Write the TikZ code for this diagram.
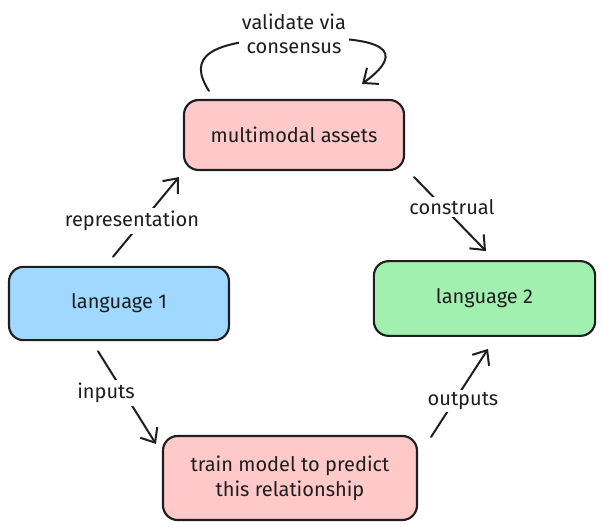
\documentclass[tikz,border=0pt]{standalone}
\usepackage{fontspec}
\setmainfont{Fira Sans}
\usetikzlibrary{arrows.meta,calc}
\definecolor{pinkfill}{HTML}{FFC9C9}
\definecolor{bluefill}{HTML}{A0D8FF}
\definecolor{greenfill}{HTML}{A2F0B0}
\definecolor{ink}{HTML}{1E1E1E}
\tikzset{
  box/.style={draw=ink, line width=1.6pt, rounded corners=11pt, align=center,
    inner sep=0pt, font=\fontsize{15}{18.5}\selectfont, text=ink},
  lbl/.style={fill=white, inner sep=2pt, align=center,
    font=\fontsize{15}{18}\selectfont, text=ink},
  arr/.style={draw=ink, line width=1.5pt, line cap=round, line join=round,
    -{Straight Barb[length=9pt,width=15pt,line width=1.5pt]}},
}
\begin{document}
\begin{tikzpicture}[x=0.75pt,y=-0.75pt]
\useasboundingbox (0,0) rectangle (602,530);

\node[box, fill=pinkfill, minimum width=165pt, minimum height=52.5pt] (mm) at (294,135) {multimodal assets};
\node[box, fill=bluefill, minimum width=165pt, minimum height=55pt] (l1) at (119,303.5) {language 1};
\node[box, fill=greenfill, minimum width=166pt, minimum height=56pt] (l2) at (484.5,298.5) {language 2};
\node[box, fill=pinkfill, minimum width=190.5pt, minimum height=63pt] (tm) at (290,478) {train model to predict\\this relationship};

% representation
\draw[arr] ($(l1.north)+(-6,-9)$) -- ($(mm.south west)+(-4,6)$);
\node[lbl] (lrep) at (132,221) {representation};

% construal
\draw[arr] ($(mm.south east)+(9,6)$) -- ($(l2.north)+(1.5,-9)$);
\node[lbl] (lcon) at (452,207) {construal};

% inputs
\draw[arr] ($(l1.south)+(-21,10)$) -- ($(tm.north west)+(-6,9)$);
\node[lbl] (linp) at (106,393) {inputs};

% outputs
\draw[arr] ($(tm.north east)+(13,2)$) -- ($(l2.south)+(3.5,12)$);
\node[lbl] (lout) at (463,401) {outputs};

% validate via consensus (self loop)
\draw[arr] ($(mm.north west)+(26,-8)$) .. controls (188,58) and (205,40) .. (294,38)
  .. controls (385,36) and (408,50) .. ($(mm.north)+(68,-15)$);
\node[lbl] (lval) at (294,34) {validate via\\consensus};
\end{tikzpicture}
\end{document}
